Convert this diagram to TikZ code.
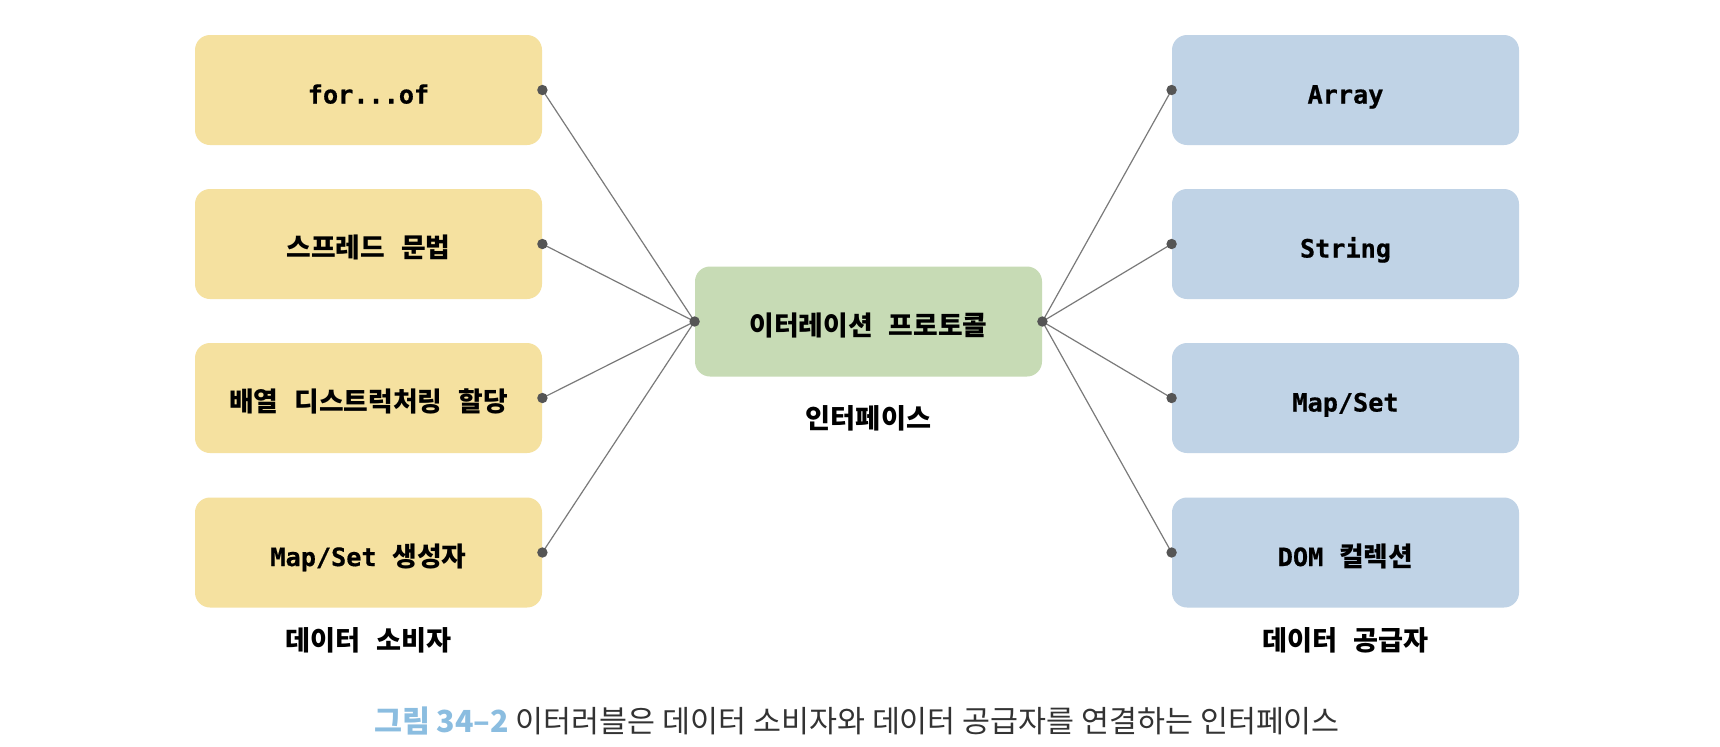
\documentclass[tikz,border=0pt]{standalone}
\usepackage{fontspec}
\setmainfont{Noto Sans CJK KR}[WordSpace=2.6]
\newfontfamily\capfont{Noto Sans CJK KR}
\newfontfamily\monofont{DejaVu Sans Mono}[BoldFeatures={FakeBold=0.6}]
\newcommand\M[1]{{\monofont\bfseries\fontsize{12.6}{15}\selectfont #1}}
\definecolor{ybox}{HTML}{F5E1A0}
\definecolor{gbox}{HTML}{C7DBB5}
\definecolor{bbox}{HTML}{C0D3E6}
\definecolor{dotc}{HTML}{555555}
\definecolor{linec}{HTML}{7A7A7A}
\definecolor{capblue}{HTML}{8BBDE0}
\definecolor{captext}{HTML}{333333}
\tikzset{
  box/.style={rectangle, rounded corners=7.5pt, minimum width=173.5pt, minimum height=55pt, inner sep=0pt, text height=14.5pt, text depth=1pt, font=\fontsize{13.4}{15}\selectfont\bfseries, text=black},
  ybx/.style={box, fill=ybox},
  gbx/.style={box, fill=gbox},
  bbx/.style={box, fill=bbox},
  lbl/.style={font=\fontsize{13.6}{15}\selectfont\bfseries, text=black, inner sep=0pt},
  conn/.style={draw=linec, line width=0.6pt},
  pin/.style={fill=dotc, draw=none},
}
\begin{document}
\begin{tikzpicture}[x=0.5pt, y=-0.5pt]
\useasboundingbox (0,0) rectangle (1720,746);
\fill[white] (0,0) rectangle (1720,746);
% left column
\node[ybx] (l1) at (368.5,90) {\M{for...of}};
\node[ybx] (l2) at (368.5,244) {스프레드 문법};
\node[ybx] (l3) at (368.5,398) {배열 디스트럭처링 할당};
\node[ybx] (l4) at (368.5,552.5) {\M{Map/Set} 생성자};
% center
\node[gbx] (c) at (868.5,321.5) {이터레이션 프로토콜};
% right column
\node[bbx] (r1) at (1345.5,90) {\M{Array}};
\node[bbx] (r2) at (1345.5,244) {\M{String}};
\node[bbx] (r3) at (1345.5,398) {\M{Map/Set}};
\node[bbx] (r4) at (1345.5,552.5) {\M{DOM} 컬렉션};
% labels
\node[lbl] (li) at (868.5,418) {인터페이스};
\node[lbl] (lc) at (368.5,640) {데이터 소비자};
\node[lbl] (lp) at (1345.5,640) {데이터 공급자};
% connectors
\foreach \n in {l1,l2,l3,l4} {
  \draw[conn] (\n.east) -- (c.west);
}
\foreach \n in {r1,r2,r3,r4} {
  \draw[conn] (c.east) -- (\n.west);
}
\foreach \p in {l1.east,l2.east,l3.east,l4.east,c.west,c.east,r1.west,r2.west,r3.west,r4.west} {
  \fill[pin] (\p) circle (2.6pt);
}
% caption
\node[inner sep=0pt, font=\capfont\fontsize{15.2}{17}\selectfont, text=captext] (cap) at (857,721)
  {{\color{capblue}\bfseries 그림 34–2} 이터러블은 데이터 소비자와 데이터 공급자를 연결하는 인터페이스};
\end{tikzpicture}
\end{document}
